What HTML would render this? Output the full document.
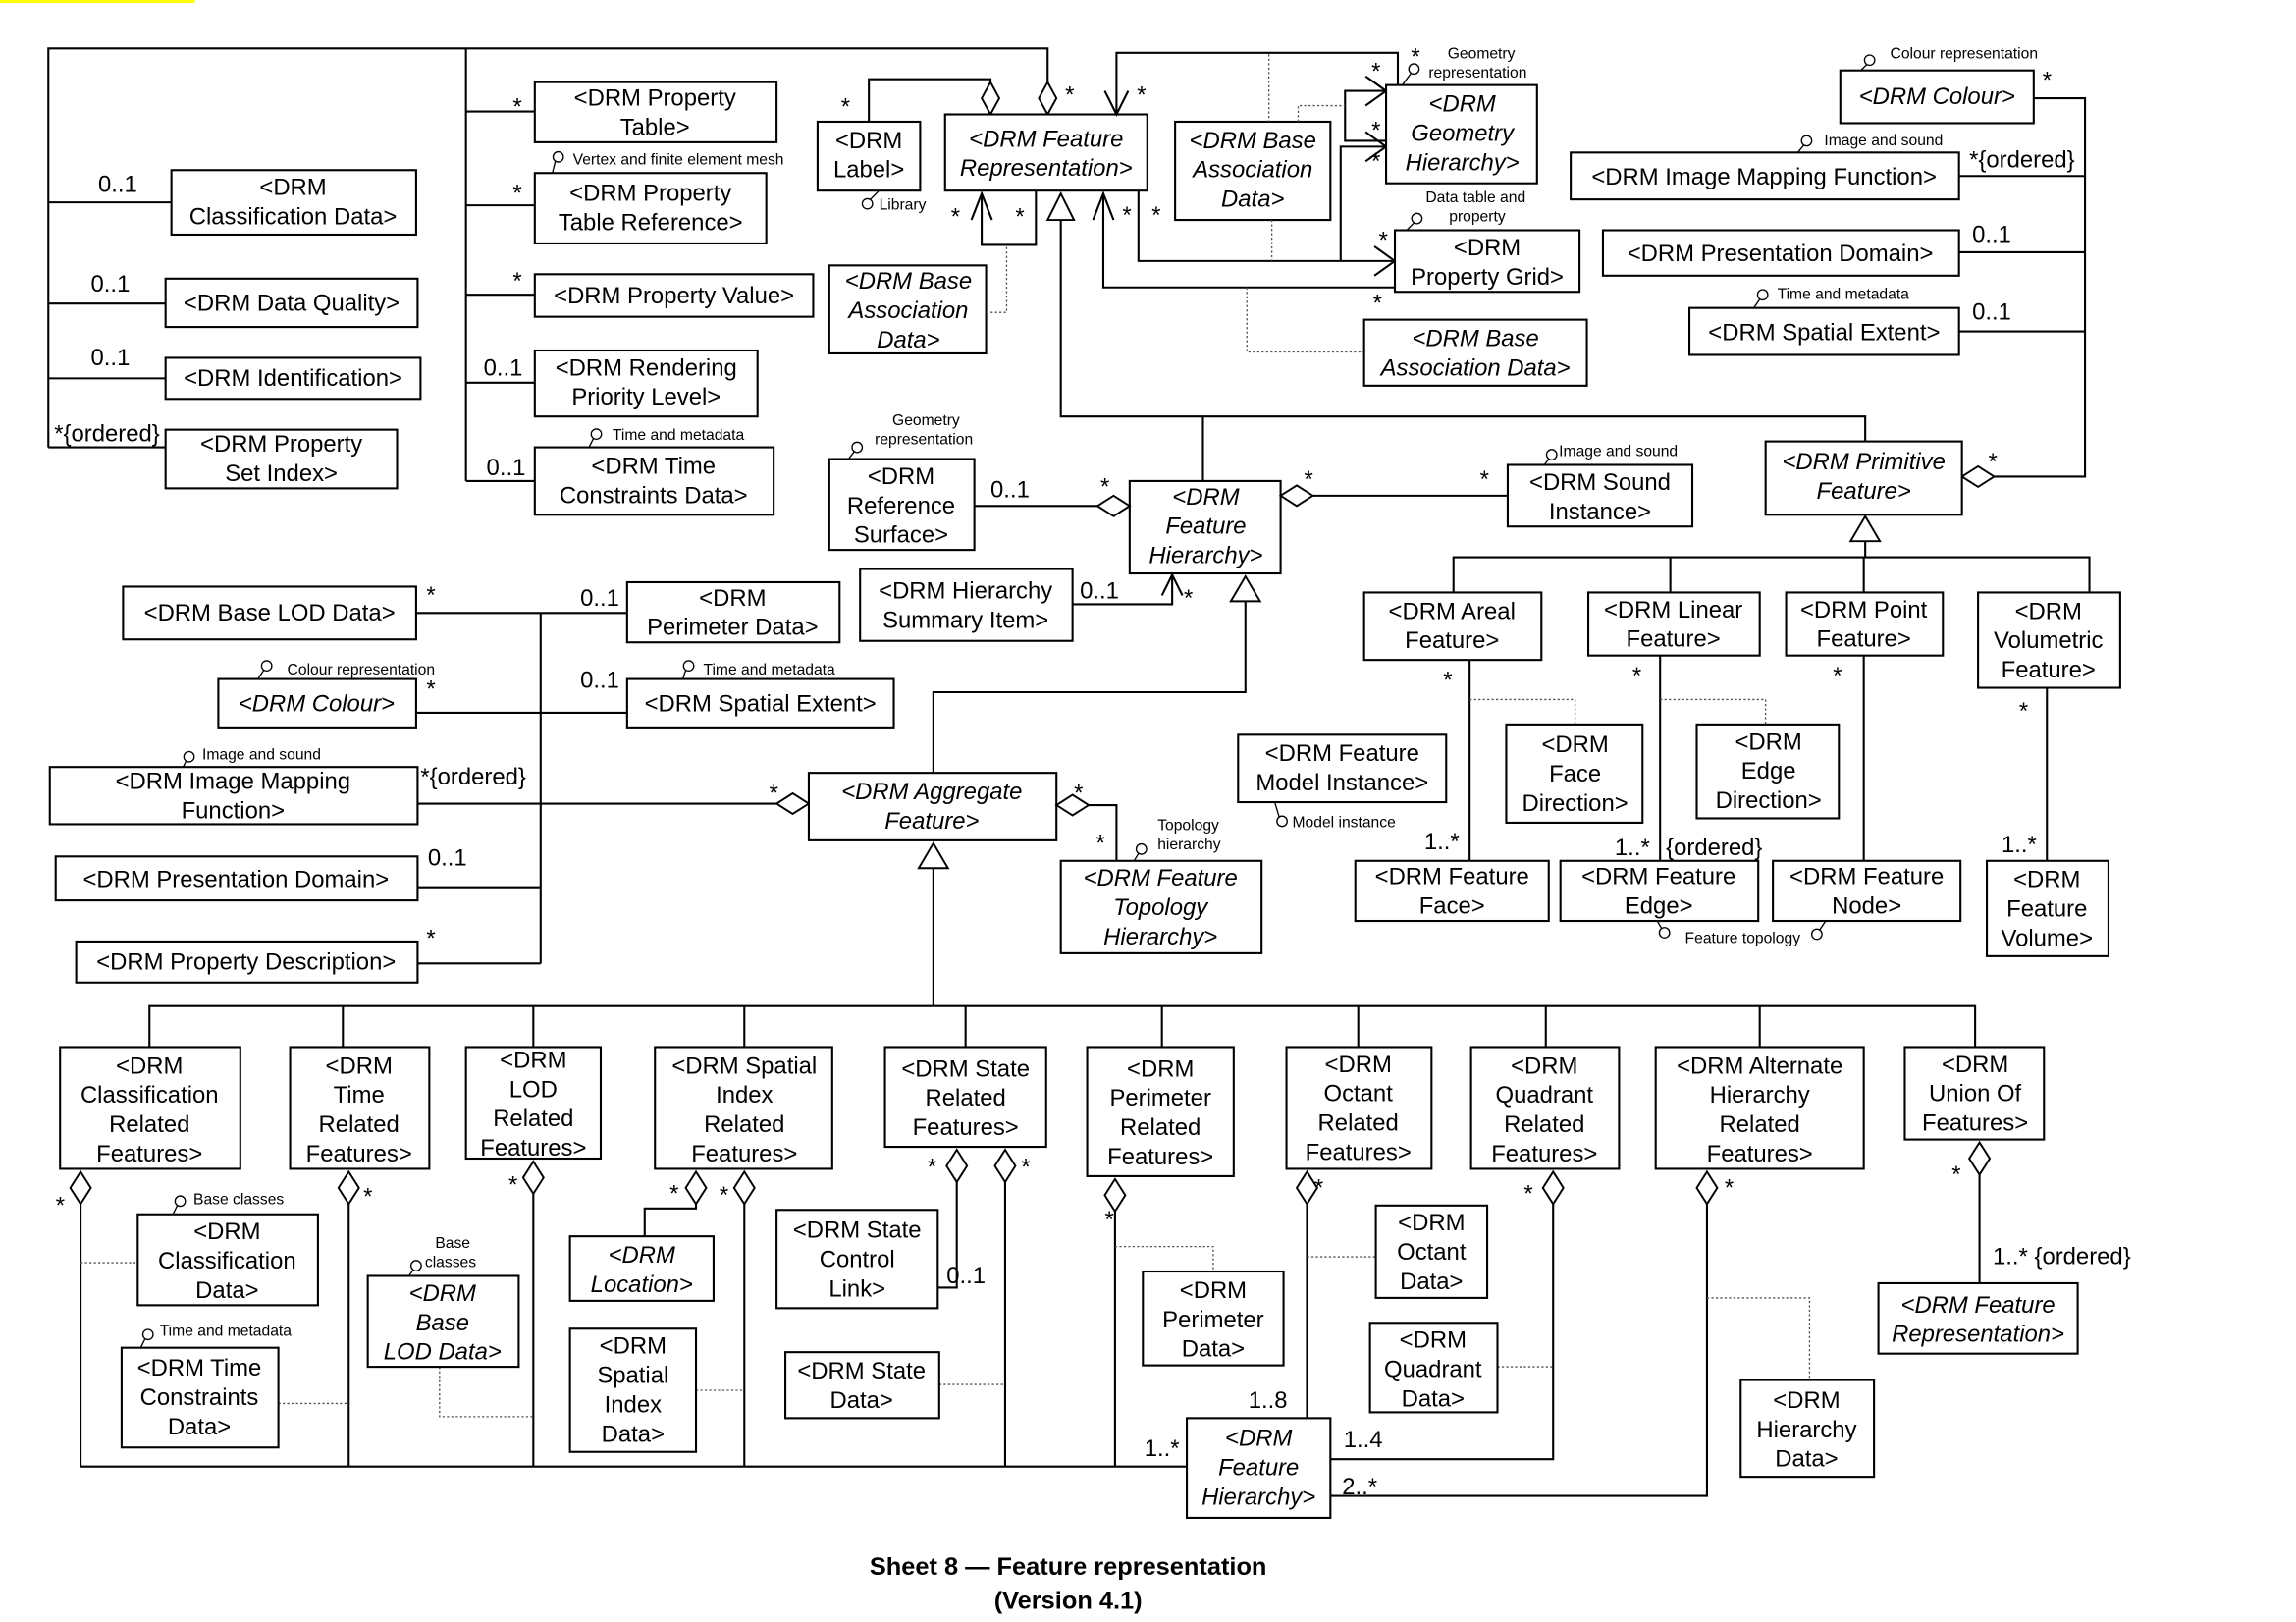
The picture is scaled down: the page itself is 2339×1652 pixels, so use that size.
<!DOCTYPE html>
<html><head><meta charset="utf-8"><style>
html,body{margin:0;padding:0;background:#fff;}
svg{display:block;}
text{font-family:"Liberation Sans",sans-serif;fill:#000;}
.t{font-size:16px;text-anchor:middle;}
.i{font-size:16px;text-anchor:middle;font-style:italic;}
.m{font-size:16px;}
.s{font-size:10.5px;}
rect{fill:#fff;stroke:#000;stroke-width:1.4;}
.l{fill:none;stroke:#000;stroke-width:1.4;}
.thin{fill:none;stroke:#000;stroke-width:0.9;}
.d{fill:none;stroke:#555;stroke-width:0.9;stroke-dasharray:1.5,1.5;}
.dm{fill:#fff;stroke:#000;stroke-width:1.3;}
.c{fill:#fff;stroke:#000;stroke-width:0.9;}
</style></head><body>
<svg width="2339" height="1652" viewBox="0 0 1567 1106" preserveAspectRatio="none" xmlns="http://www.w3.org/2000/svg">
<rect x="0" y="0" width="133" height="2" style="fill:#ff0;stroke:none"/>

<path class="l" d="M33,305 V33 H715 V58"/>
<path class="l" d="M33,138 H117 M33,207 H113 M33,258 H113 M33,305 H113"/>
<path class="l" d="M318,33 V328 M318,76 H365 M318,140 H365 M318,201 H365 M318,261 H365 M318,328 H365"/>
<text class="m" x="67" y="131">0..1</text>
<text class="m" x="62" y="199">0..1</text>
<text class="m" x="62" y="249">0..1</text>
<text class="m" x="37" y="301">*{ordered}</text>
<text class="m" x="350" y="78">*</text>
<text class="m" x="350" y="137">*</text>
<text class="m" x="350" y="197">*</text>
<text class="m" x="330" y="256">0..1</text>
<text class="m" x="332" y="324">0..1</text>

<rect x="117" y="116" width="167" height="44"/>
<text class="t" x="200" y="133">&lt;DRM</text><text class="t" x="200" y="153">Classification Data&gt;</text>
<rect x="113" y="190" width="172" height="33"/>
<text class="t" x="199" y="212">&lt;DRM Data Quality&gt;</text>
<rect x="113" y="244" width="174" height="28"/>
<text class="t" x="200" y="263">&lt;DRM Identification&gt;</text>
<rect x="113" y="293" width="158" height="40"/>
<text class="t" x="192" y="308">&lt;DRM Property</text><text class="t" x="192" y="328">Set Index&gt;</text>

<rect x="365" y="56" width="165" height="41"/>
<text class="t" x="447" y="72">&lt;DRM Property</text><text class="t" x="447" y="92">Table&gt;</text>
<rect x="365" y="118" width="158" height="48"/>
<text class="t" x="444" y="137">&lt;DRM Property</text><text class="t" x="444" y="157">Table Reference&gt;</text>
<circle class="c" cx="381" cy="107" r="3.5"/><path class="thin" d="M379,110 L377,118"/>
<text class="s" x="391" y="112">Vertex and finite element mesh</text>
<rect x="365" y="187" width="190" height="29"/>
<text class="t" x="460" y="207">&lt;DRM Property Value&gt;</text>
<rect x="365" y="239" width="152" height="45"/>
<text class="t" x="441" y="256">&lt;DRM Rendering</text><text class="t" x="441" y="276">Priority Level&gt;</text>
<rect x="365" y="305" width="163" height="46"/>
<text class="t" x="446" y="323">&lt;DRM Time</text><text class="t" x="446" y="343">Constraints Data&gt;</text>
<circle class="c" cx="407" cy="296" r="3.5"/><path class="thin" d="M405,299 L402,305"/>
<text class="s" x="418" y="300">Time and metadata</text>

<path class="l" d="M593,83 V54 H676 V58"/>
<polygon class="dm" points="676,56 682,67 676,78 670,67"/>
<polygon class="dm" points="715,56 721,67 715,78 709,67"/>
<text class="m" x="574" y="78">*</text>
<text class="m" x="727" y="70">*</text>
<rect x="558" y="83" width="70" height="47"/>
<text class="t" x="593" y="101">&lt;DRM</text><text class="t" x="593" y="121">Label&gt;</text>
<circle class="c" cx="592" cy="139" r="3.5"/><path class="thin" d="M594,136 L600,130"/>
<text class="s" x="600" y="143">Library</text>

<rect x="645" y="78" width="138" height="52"/>
<text class="i" x="714" y="100">&lt;DRM Feature</text><text class="i" x="714" y="120">Representation&gt;</text>

<path class="l" d="M762,78 V36 H954 V58"/>
<path class="l" d="M754,62 L762,78 L770,62"/>
<text class="m" x="776" y="70">*</text>
<text class="m" x="963" y="44">*</text>
<path class="l" d="M670,132 V167 H707 V130"/>
<path class="l" d="M663,150 L670,132 L677,150"/>
<text class="m" x="649" y="153">*</text>
<text class="m" x="693" y="153">*</text>
<polygon class="dm" points="724,132 733,150 715,150"/>
<path class="l" d="M777,130 V178 H952"/>
<path class="l" d="M753,132 V196 H952"/>
<path class="l" d="M746,150 L753,132 L760,150"/>
<text class="m" x="766" y="152">*</text>
<text class="m" x="786" y="152">*</text>
<path class="l" d="M938,168 L952,178 L938,188"/>
<path class="l" d="M915,178 V100 H946"/>
<path class="l" d="M932,90 L946,100 L932,110"/>
<path class="l" d="M946,62 H918 V96 H946"/>
<path class="l" d="M932,52 L946,62 L932,72"/>
<text class="m" x="936" y="54">*</text>
<text class="m" x="936" y="94">*</text>
<text class="m" x="936" y="115">*</text>
<text class="m" x="941" y="169">*</text>
<text class="m" x="937" y="212">*</text>

<rect x="802" y="83" width="106" height="67"/>
<text class="i" x="855" y="101">&lt;DRM Base</text><text class="i" x="855" y="121">Association</text><text class="i" x="855" y="141">Data&gt;</text>
<path class="d" d="M866,37 V83 M886,83 V72 H918 M868,150 V178 M851,196 V240 H931"/>

<rect x="946" y="58" width="103" height="67"/>
<text class="i" x="998" y="76">&lt;DRM</text><text class="i" x="998" y="96">Geometry</text><text class="i" x="998" y="116">Hierarchy&gt;</text>
<circle class="c" cx="965" cy="47" r="3.5"/><path class="thin" d="M963,50 L957,58"/>
<text class="s" x="988" y="40">Geometry</text><text class="s" x="975" y="53">representation</text>

<rect x="952" y="157" width="126" height="42"/>
<text class="t" x="1015" y="174">&lt;DRM</text><text class="t" x="1015" y="194">Property Grid&gt;</text>
<circle class="c" cx="967" cy="149" r="3.5"/><path class="thin" d="M965,152 L960,157"/>
<text class="s" x="973" y="138">Data table and</text><text class="s" x="989" y="151">property</text>

<rect x="931" y="218" width="152" height="45"/>
<text class="i" x="1007" y="236">&lt;DRM Base</text><text class="i" x="1007" y="256">Association Data&gt;</text>

<rect x="566" y="181" width="107" height="60"/>
<text class="i" x="620" y="197">&lt;DRM Base</text><text class="i" x="620" y="217">Association</text><text class="i" x="620" y="237">Data&gt;</text>
<path class="d" d="M673,213 H687 V168"/>

<path class="l" d="M724,150 V284 H1273 V301 M821,284 V328"/>

<rect x="1256" y="48" width="132" height="36"/>
<text class="i" x="1322" y="71">&lt;DRM Colour&gt;</text>
<circle class="c" cx="1276" cy="41" r="3.5"/><path class="thin" d="M1274,44 L1270,48"/>
<text class="s" x="1290" y="40">Colour representation</text>
<rect x="1072" y="104" width="265" height="32"/>
<text class="t" x="1204" y="126">&lt;DRM Image Mapping Function&gt;</text>
<circle class="c" cx="1233" cy="96" r="3.5"/><path class="thin" d="M1231,99 L1227,104"/>
<text class="s" x="1245" y="99">Image and sound</text>
<rect x="1094" y="157" width="243" height="31"/>
<text class="t" x="1215" y="178">&lt;DRM Presentation Domain&gt;</text>
<rect x="1153" y="210" width="184" height="32"/>
<text class="t" x="1245" y="232">&lt;DRM Spatial Extent&gt;</text>
<circle class="c" cx="1203" cy="201" r="3.5"/><path class="thin" d="M1201,204 L1197,210"/>
<text class="s" x="1213" y="204">Time and metadata</text>
<path class="l" d="M1388,67 H1423 V325 H1361 M1337,120 H1423 M1337,172 H1423 M1337,226 H1423"/>
<polygon class="dm" points="1339,325 1350,318 1361,325 1350,332"/>
<text class="m" x="1394" y="60">*</text>
<text class="m" x="1344" y="114">*{ordered}</text>
<text class="m" x="1346" y="165">0..1</text>
<text class="m" x="1346" y="218">0..1</text>
<text class="m" x="1357" y="320">*</text>

<rect x="1205" y="301" width="134" height="50"/>
<text class="i" x="1272" y="320">&lt;DRM Primitive</text><text class="i" x="1272" y="340">Feature&gt;</text>

<polygon class="dm" points="1273,352 1283,369 1263,369"/>
<path class="l" d="M1273,369 V380 M992,404 V380 H1426 V404 M1140,380 V404 M1272,380 V404"/>

<rect x="931" y="404" width="121" height="46"/>
<text class="t" x="991" y="422">&lt;DRM Areal</text><text class="t" x="991" y="442">Feature&gt;</text>
<rect x="1084" y="404" width="117" height="43"/>
<text class="t" x="1142" y="421">&lt;DRM Linear</text><text class="t" x="1142" y="441">Feature&gt;</text>
<rect x="1219" y="404" width="107" height="43"/>
<text class="t" x="1272" y="421">&lt;DRM Point</text><text class="t" x="1272" y="441">Feature&gt;</text>
<rect x="1350" y="404" width="97" height="65"/>
<text class="t" x="1398" y="422">&lt;DRM</text><text class="t" x="1398" y="442">Volumetric</text><text class="t" x="1398" y="462">Feature&gt;</text>

<path class="l" d="M1003,450 V587 M1133,447 V587 M1272,447 V587 M1397,469 V587"/>
<path class="d" d="M1003,477 H1075 V494 M1133,477 H1205 V494"/>
<text class="m" x="985" y="469">*</text>
<text class="m" x="1114" y="466">*</text>
<text class="m" x="1251" y="466">*</text>
<text class="m" x="1378" y="490">*</text>
<text class="m" x="972" y="579">1..*</text>
<text class="m" x="1102" y="583">1..*</text>
<text class="m" x="1137" y="583">{ordered}</text>
<text class="m" x="1366" y="581">1..*</text>

<rect x="1028" y="494" width="93" height="67"/>
<text class="t" x="1075" y="513">&lt;DRM</text><text class="t" x="1075" y="533">Face</text><text class="t" x="1075" y="553">Direction&gt;</text>
<rect x="1158" y="494" width="97" height="64"/>
<text class="t" x="1207" y="511">&lt;DRM</text><text class="t" x="1207" y="531">Edge</text><text class="t" x="1207" y="551">Direction&gt;</text>

<rect x="925" y="587" width="132" height="41"/>
<text class="t" x="991" y="603">&lt;DRM Feature</text><text class="t" x="991" y="623">Face&gt;</text>
<rect x="1065" y="587" width="135" height="41"/>
<text class="t" x="1132" y="603">&lt;DRM Feature</text><text class="t" x="1132" y="623">Edge&gt;</text>
<rect x="1210" y="587" width="128" height="41"/>
<text class="t" x="1274" y="603">&lt;DRM Feature</text><text class="t" x="1274" y="623">Node&gt;</text>
<rect x="1356" y="587" width="83" height="65"/>
<text class="t" x="1397" y="605">&lt;DRM</text><text class="t" x="1397" y="625">Feature</text><text class="t" x="1397" y="645">Volume&gt;</text>
<circle class="c" cx="1136" cy="636" r="3.5"/><path class="thin" d="M1134,633 L1131,628"/>
<circle class="c" cx="1240" cy="637" r="3.5"/><path class="thin" d="M1242,634 L1246,628"/>
<text class="s" x="1150" y="643">Feature topology</text>

<rect x="771" y="328" width="103" height="63"/>
<text class="i" x="823" y="344">&lt;DRM</text><text class="i" x="823" y="364">Feature</text><text class="i" x="823" y="384">Hierarchy&gt;</text>
<path class="l" d="M665,345 H749"/>
<polygon class="dm" points="749,345 760,338 771,345 760,352"/>
<text class="m" x="676" y="339">0..1</text>
<text class="m" x="751" y="337">*</text>
<path class="l" d="M896,338 H1029"/>
<polygon class="dm" points="874,338 885,331 896,338 885,345"/>
<text class="m" x="890" y="332">*</text>
<text class="m" x="1010" y="332">*</text>
<rect x="566" y="313" width="99" height="62"/>
<text class="t" x="615" y="330">&lt;DRM</text><text class="t" x="615" y="350">Reference</text><text class="t" x="615" y="370">Surface&gt;</text>
<circle class="c" cx="585" cy="305" r="3.5"/><path class="thin" d="M583,308 L579,313"/>
<text class="s" x="609" y="290">Geometry</text><text class="s" x="597" y="303">representation</text>
<rect x="1029" y="317" width="126" height="42"/>
<text class="t" x="1092" y="334">&lt;DRM Sound</text><text class="t" x="1092" y="354">Instance&gt;</text>
<circle class="c" cx="1059" cy="310" r="3.5"/><path class="thin" d="M1057,313 L1054,317"/>
<text class="s" x="1064" y="311">Image and sound</text>
<rect x="587" y="388" width="145" height="49"/>
<text class="t" x="659" y="408">&lt;DRM Hierarchy</text><text class="t" x="659" y="428">Summary Item&gt;</text>
<path class="l" d="M732,412 H800 V392"/>
<path class="l" d="M793,406 L800,392 L807,406"/>
<text class="m" x="737" y="408">0..1</text>
<text class="m" x="808" y="413">*</text>
<polygon class="dm" points="850,393 860,410 840,410"/>
<path class="l" d="M850,410 V472 H637 V527"/>
<rect x="845" y="501" width="142" height="46"/>
<text class="t" x="916" y="519">&lt;DRM Feature</text><text class="t" x="916" y="539">Model Instance&gt;</text>
<circle class="c" cx="875" cy="560" r="3.5"/><path class="thin" d="M873,557 L870,547"/>
<text class="s" x="882" y="564">Model instance</text>

<path class="l" d="M284,418 H428 M369,418 V657 M284,486 H428 M285,548 H530 M285,605 H369 M285,657 H369"/>
<polygon class="dm" points="530,548 541,541 552,548 541,555"/>
<text class="m" x="291" y="411">*</text>
<text class="m" x="396" y="413">0..1</text>
<text class="m" x="291" y="475">*</text>
<text class="m" x="396" y="469">0..1</text>
<text class="m" x="287" y="535">*{ordered}</text>
<text class="m" x="525" y="546">*</text>
<text class="m" x="292" y="590">0..1</text>
<text class="m" x="291" y="645">*</text>
<rect x="84" y="400" width="200" height="36"/>
<text class="t" x="184" y="423">&lt;DRM Base LOD Data&gt;</text>
<rect x="428" y="397" width="145" height="41"/>
<text class="t" x="500" y="413">&lt;DRM</text><text class="t" x="500" y="433">Perimeter Data&gt;</text>
<rect x="149" y="463" width="135" height="33"/>
<text class="i" x="216" y="485">&lt;DRM Colour&gt;</text>
<circle class="c" cx="182" cy="454" r="3.5"/><path class="thin" d="M180,457 L176,463"/>
<text class="s" x="196" y="460">Colour representation</text>
<rect x="428" y="463" width="182" height="33"/>
<text class="t" x="519" y="485">&lt;DRM Spatial Extent&gt;</text>
<circle class="c" cx="470" cy="454" r="3.5"/><path class="thin" d="M468,457 L466,463"/>
<text class="s" x="480" y="460">Time and metadata</text>
<rect x="34" y="523" width="251" height="39"/>
<text class="t" x="159" y="538">&lt;DRM Image Mapping</text><text class="t" x="159" y="558">Function&gt;</text>
<circle class="c" cx="129" cy="516" r="3.5"/><path class="thin" d="M127,519 L125,523"/>
<text class="s" x="138" y="518">Image and sound</text>
<rect x="38" y="584" width="247" height="30"/>
<text class="t" x="161" y="605">&lt;DRM Presentation Domain&gt;</text>
<rect x="52" y="642" width="233" height="28"/>
<text class="t" x="168" y="661">&lt;DRM Property Description&gt;</text>

<rect x="552" y="527" width="169" height="46"/>
<text class="i" x="636" y="545">&lt;DRM Aggregate</text><text class="i" x="636" y="565">Feature&gt;</text>
<polygon class="dm" points="721,549 732,542 743,549 732,556"/>
<path class="l" d="M743,549 H762 V587"/>
<text class="m" x="733" y="546">*</text>
<text class="m" x="748" y="580">*</text>
<rect x="724" y="587" width="137" height="63"/>
<text class="i" x="792" y="604">&lt;DRM Feature</text><text class="i" x="792" y="624">Topology</text><text class="i" x="792" y="644">Hierarchy&gt;</text>
<circle class="c" cx="779" cy="579" r="3.5"/><path class="thin" d="M777,582 L774,587"/>
<text class="s" x="790" y="566">Topology</text><text class="s" x="790" y="579">hierarchy</text>

<polygon class="dm" points="637,575 647,592 627,592"/>
<path class="l" d="M637,592 V686 M102,714 V686 H1348 V714 M234,686 V714 M364,686 V714 M508,686 V714 M659,686 V714 M793,686 V714 M927,686 V714 M1055,686 V714 M1201,686 V714"/>

<rect x="41" y="714" width="123" height="83"/>
<text class="t" x="102" y="732">&lt;DRM</text><text class="t" x="102" y="752">Classification</text><text class="t" x="102" y="772">Related</text><text class="t" x="102" y="792">Features&gt;</text>
<rect x="198" y="714" width="95" height="83"/>
<text class="t" x="245" y="732">&lt;DRM</text><text class="t" x="245" y="752">Time</text><text class="t" x="245" y="772">Related</text><text class="t" x="245" y="792">Features&gt;</text>
<rect x="318" y="714" width="92" height="76"/>
<text class="t" x="364" y="728">&lt;DRM</text><text class="t" x="364" y="748">LOD</text><text class="t" x="364" y="768">Related</text><text class="t" x="364" y="788">Features&gt;</text>
<rect x="447" y="714" width="121" height="83"/>
<text class="t" x="508" y="732">&lt;DRM Spatial</text><text class="t" x="508" y="752">Index</text><text class="t" x="508" y="772">Related</text><text class="t" x="508" y="792">Features&gt;</text>
<rect x="604" y="714" width="110" height="68"/>
<text class="t" x="659" y="734">&lt;DRM State</text><text class="t" x="659" y="754">Related</text><text class="t" x="659" y="774">Features&gt;</text>
<rect x="742" y="714" width="100" height="88"/>
<text class="t" x="792" y="734">&lt;DRM</text><text class="t" x="792" y="754">Perimeter</text><text class="t" x="792" y="774">Related</text><text class="t" x="792" y="794">Features&gt;</text>
<rect x="878" y="714" width="99" height="83"/>
<text class="t" x="927" y="731">&lt;DRM</text><text class="t" x="927" y="751">Octant</text><text class="t" x="927" y="771">Related</text><text class="t" x="927" y="791">Features&gt;</text>
<rect x="1004" y="714" width="101" height="83"/>
<text class="t" x="1054" y="732">&lt;DRM</text><text class="t" x="1054" y="752">Quadrant</text><text class="t" x="1054" y="772">Related</text><text class="t" x="1054" y="792">Features&gt;</text>
<rect x="1130" y="714" width="142" height="83"/>
<text class="t" x="1201" y="732">&lt;DRM Alternate</text><text class="t" x="1201" y="752">Hierarchy</text><text class="t" x="1201" y="772">Related</text><text class="t" x="1201" y="792">Features&gt;</text>
<rect x="1300" y="714" width="95" height="63"/>
<text class="t" x="1348" y="731">&lt;DRM</text><text class="t" x="1348" y="751">Union Of</text><text class="t" x="1348" y="771">Features&gt;</text>

<polygon class="dm" points="55,799 62,810 55,821 48,810"/>
<polygon class="dm" points="238,799 245,810 238,821 231,810"/>
<polygon class="dm" points="364,792 371,803 364,814 357,803"/>
<polygon class="dm" points="475,799 482,810 475,821 468,810"/>
<polygon class="dm" points="508,799 515,810 508,821 501,810"/>
<polygon class="dm" points="653,784 660,795 653,806 646,795"/>
<polygon class="dm" points="686,784 693,795 686,806 679,795"/>
<polygon class="dm" points="761,804 768,815 761,826 754,815"/>
<polygon class="dm" points="892,799 899,810 892,821 885,810"/>
<polygon class="dm" points="1060,799 1067,810 1060,821 1053,810"/>
<polygon class="dm" points="1165,799 1172,810 1165,821 1158,810"/>
<polygon class="dm" points="1351,779 1358,790 1351,801 1344,790"/>
<path class="l" d="M55,821 V1000 H810 M238,821 V1000 M364,814 V1000 M508,821 V1000 M686,806 V1000 M761,826 V1000"/>
<path class="l" d="M475,821 V824 H440 V843 M653,806 V878 H640"/>
<path class="l" d="M892,821 V967 M1060,821 V995 H908 M1165,821 V1020 H908 M1351,801 V875"/>
<text class="m" x="38" y="827">*</text>
<text class="m" x="248" y="821">*</text>
<text class="m" x="347" y="813">*</text>
<text class="m" x="457" y="819">*</text>
<text class="m" x="491" y="820">*</text>
<text class="m" x="633" y="801">*</text>
<text class="m" x="697" y="801">*</text>
<text class="m" x="754" y="837">*</text>
<text class="m" x="897" y="815">*</text>
<text class="m" x="1040" y="819">*</text>
<text class="m" x="1177" y="815">*</text>
<text class="m" x="1332" y="806">*</text>
<text class="m" x="646" y="875">0..1</text>
<text class="m" x="852" y="960">1..8</text>
<text class="m" x="781" y="993">1..*</text>
<text class="m" x="917" y="987">1..4</text>
<text class="m" x="916" y="1019">2..*</text>
<text class="m" x="1360" y="862">1..* {ordered}</text>

<path class="d" d="M55,861 H94 M190,957 H238 M300,932 V966 H364 M475,948 H508 M641,944 H686 M761,850 H828 V867 M892,857 H939 M1022,932 H1060 M1165,885 H1235 V941"/>

<rect x="94" y="828" width="123" height="62"/>
<text class="t" x="155" y="845">&lt;DRM</text><text class="t" x="155" y="865">Classification</text><text class="t" x="155" y="885">Data&gt;</text>
<circle class="c" cx="123" cy="819" r="3.5"/><path class="thin" d="M121,822 L118,828"/>
<text class="s" x="132" y="821">Base classes</text>
<rect x="83" y="919" width="107" height="68"/>
<text class="t" x="136" y="938">&lt;DRM Time</text><text class="t" x="136" y="958">Constraints</text><text class="t" x="136" y="978">Data&gt;</text>
<circle class="c" cx="101" cy="910" r="3.5"/><path class="thin" d="M99,913 L96,919"/>
<text class="s" x="109" y="911">Time and metadata</text>
<rect x="251" y="870" width="103" height="62"/>
<text class="i" x="302" y="887">&lt;DRM</text><text class="i" x="302" y="907">Base</text><text class="i" x="302" y="927">LOD Data&gt;</text>
<circle class="c" cx="284" cy="863" r="3.5"/><path class="thin" d="M282,866 L279,870"/>
<text class="s" x="297" y="851">Base</text><text class="s" x="290" y="864">classes</text>
<rect x="389" y="843" width="98" height="44"/>
<text class="i" x="438" y="861">&lt;DRM</text><text class="i" x="438" y="881">Location&gt;</text>
<rect x="389" y="906" width="86" height="84"/>
<text class="t" x="432" y="923">&lt;DRM</text><text class="t" x="432" y="943">Spatial</text><text class="t" x="432" y="963">Index</text><text class="t" x="432" y="983">Data&gt;</text>
<rect x="530" y="825" width="110" height="67"/>
<text class="t" x="585" y="844">&lt;DRM State</text><text class="t" x="585" y="864">Control</text><text class="t" x="585" y="884">Link&gt;</text>
<rect x="536" y="922" width="105" height="45"/>
<text class="t" x="588" y="940">&lt;DRM State</text><text class="t" x="588" y="960">Data&gt;</text>
<rect x="780" y="867" width="96" height="64"/>
<text class="t" x="828" y="885">&lt;DRM</text><text class="t" x="828" y="905">Perimeter</text><text class="t" x="828" y="925">Data&gt;</text>
<rect x="939" y="822" width="76" height="63"/>
<text class="t" x="977" y="839">&lt;DRM</text><text class="t" x="977" y="859">Octant</text><text class="t" x="977" y="879">Data&gt;</text>
<rect x="935" y="902" width="87" height="61"/>
<text class="t" x="978" y="919">&lt;DRM</text><text class="t" x="978" y="939">Quadrant</text><text class="t" x="978" y="959">Data&gt;</text>
<rect x="1188" y="941" width="91" height="66"/>
<text class="t" x="1233" y="960">&lt;DRM</text><text class="t" x="1233" y="980">Hierarchy</text><text class="t" x="1233" y="1000">Data&gt;</text>
<rect x="1282" y="875" width="136" height="48"/>
<text class="i" x="1350" y="895">&lt;DRM Feature</text><text class="i" x="1350" y="915">Representation&gt;</text>
<rect x="810" y="967" width="98" height="68"/>
<text class="i" x="859" y="986">&lt;DRM</text><text class="i" x="859" y="1006">Feature</text><text class="i" x="859" y="1026">Hierarchy&gt;</text>

<text x="729" y="1074" style="font-size:17px;font-weight:bold;text-anchor:middle">Sheet 8 — Feature representation</text>
<text x="729" y="1097" style="font-size:17px;font-weight:bold;text-anchor:middle">(Version 4.1)</text>
</svg>
</body></html>
